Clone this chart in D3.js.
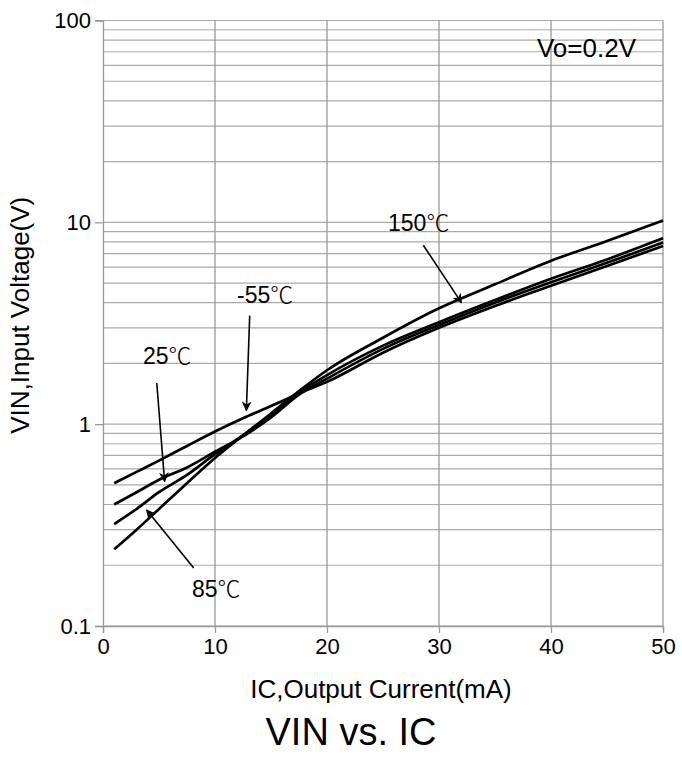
<!DOCTYPE html>
<html lang="en">
<head>
  <meta charset="utf-8">
  <title>VIN vs. IC</title>
  <script src="https://d3js.org/d3.v7.min.js"></script>
  <style>
    body { margin: 0; background: #fff; }
    text { font-family: Arial, "Liberation Sans", sans-serif; fill: #000; }
  </style>
</head>
<body>
  <svg id="chart" width="682" height="760"></svg>
  <script>
    // output current (mA)
    const current = [1, 3, 5, 7.5, 10, 12.5, 15, 17.5, 20, 25, 30, 35, 40, 45, 50];
    // input voltage (V) per temperature
    const vinM55 = [0.51, 0.58, 0.66, 0.78, 0.92, 1.07, 1.23, 1.42, 1.62, 2.26, 3.0, 3.85, 4.85, 6.08, 7.63];
    const vin25 = [0.40, 0.46, 0.53, 0.61, 0.73, 0.87, 1.08, 1.40, 1.68, 2.36, 3.1, 4.0, 5.05, 6.3, 7.94];
    const vin85 = [0.32, 0.38, 0.46, 0.56, 0.71, 0.88, 1.1, 1.43, 1.75, 2.45, 3.2, 4.12, 5.25, 6.55, 8.34];
    const vin150 = [0.24, 0.30, 0.38, 0.51, 0.68, 0.88, 1.13, 1.46, 1.85, 2.68, 3.75, 4.93, 6.45, 8.08, 10.2];

    const xTicks = [0, 10, 20, 30, 40, 50];
    const yTicks = [0.1, 1, 10, 100];

    // label, point the arrow hits, where the arrow starts, label position
    const notes = [
      { num: "150", at: [32, 4.0], from: [28.6, 7.7], tx: 388, ty: 231 },
      { num: "-55", at: [12.8, 1.17], from: [13.1, 3.45], tx: 237, ty: 303 },
      { num: "25", at: [5.5, 0.52], from: [4.8, 1.6], tx: 143, ty: 364 },
      { num: "85", at: [3.9, 0.376], from: [8.1, 0.194], tx: 192, ty: 597 }
    ];

    const svg = d3.select("#chart");
    const pLeft = 103, pTop = 20.5, pRight = 663, pBottom = 626;

    const x = d3.scaleLinear().domain([0, 50]).range([pLeft, pRight]);
    const y = d3.scaleLog().domain([0.1, 100]).range([pBottom, pTop]);

    svg.append("defs").append("marker")
      .attr("id", "arrow")
      .attr("viewBox", "0 0 10 10")
      .attr("refX", 9).attr("refY", 5)
      .attr("markerWidth", 10).attr("markerHeight", 10)
      .attr("markerUnits", "userSpaceOnUse")
      .attr("orient", "auto")
      .append("path")
      .attr("d", "M0,0 L10,5 L0,10 L3,5 Z")
      .attr("fill", "#000");

    // horizontal grid, every 1..9 of each decade
    const minor = [];
    for (let d = 0.1; d < 100; d *= 10) {
      for (let k = 1; k <= 10; k++) minor.push(+(d * k).toPrecision(3));
    }
    svg.append("g").selectAll("line")
      .data(Array.from(new Set(minor)))
      .join("line")
      .attr("x1", pLeft).attr("x2", pRight)
      .attr("y1", d => y(d)).attr("y2", d => y(d))
      .attr("stroke", "#aaa").attr("stroke-width", 1.2);

    // vertical grid
    svg.append("g").selectAll("line")
      .data(xTicks.slice(1))
      .join("line")
      .attr("x1", d => x(d)).attr("x2", d => x(d))
      .attr("y1", pTop).attr("y2", pBottom)
      .attr("stroke", "#999").attr("stroke-width", 1.3);

    const yAxis = svg.append("g")
      .attr("transform", `translate(${pLeft},0)`)
      .call(d3.axisLeft(y).tickValues(yTicks).tickFormat(d => d).tickSize(8).tickPadding(4));
    const xAxis = svg.append("g")
      .attr("transform", `translate(0,${pBottom})`)
      .call(d3.axisBottom(x).tickValues(xTicks).tickSize(7).tickPadding(5));

    [yAxis, xAxis].forEach(g => {
      g.selectAll("path, line").attr("stroke", "#999").attr("stroke-width", 1.3);
      g.selectAll("text").attr("font-size", 22).attr("font-family", "Arial, sans-serif").attr("fill", "#000");
    });

    const line = d3.line()
      .x((d, i) => x(current[i]))
      .y(d => y(d))
      .curve(d3.curveMonotoneX);

    svg.append("g").selectAll("path")
      .data([vinM55, vin25, vin85, vin150])
      .join("path")
      .attr("d", line)
      .attr("fill", "none")
      .attr("stroke", "#000")
      .attr("stroke-width", 2.7);

    const ann = svg.append("g");
    notes.forEach(n => {
      ann.append("line")
        .attr("x1", x(n.from[0])).attr("y1", y(n.from[1]))
        .attr("x2", x(n.at[0])).attr("y2", y(n.at[1]))
        .attr("stroke", "#000").attr("stroke-width", 1.6)
        .attr("marker-end", "url(#arrow)");
      const t = ann.append("text")
        .attr("x", n.tx).attr("y", n.ty)
        .attr("font-size", 23);
      t.append("tspan").text(n.num);
      t.append("tspan")
        .attr("font-family", "'Noto Sans CJK SC', sans-serif")
        .attr("font-weight", 300)
        .text("℃");
    });

    svg.append("text")
      .attr("x", 636).attr("y", 57)
      .attr("text-anchor", "end")
      .attr("font-size", 26)
      .text("Vo=0.2V");

    svg.append("text")
      .attr("x", 381).attr("y", 698)
      .attr("text-anchor", "middle")
      .attr("font-size", 26)
      .text("IC,Output Current(mA)");

    svg.append("text")
      .attr("transform", `translate(29,${(pTop + pBottom) / 2 - 8}) rotate(-90)`)
      .attr("text-anchor", "middle")
      .attr("font-size", 26)
      .text("VIN,Input Voltage(V)");

    svg.append("text")
      .attr("x", 351).attr("y", 745)
      .attr("text-anchor", "middle")
      .attr("font-size", 38)
      .text("VIN vs. IC");
  </script>
</body>
</html>
